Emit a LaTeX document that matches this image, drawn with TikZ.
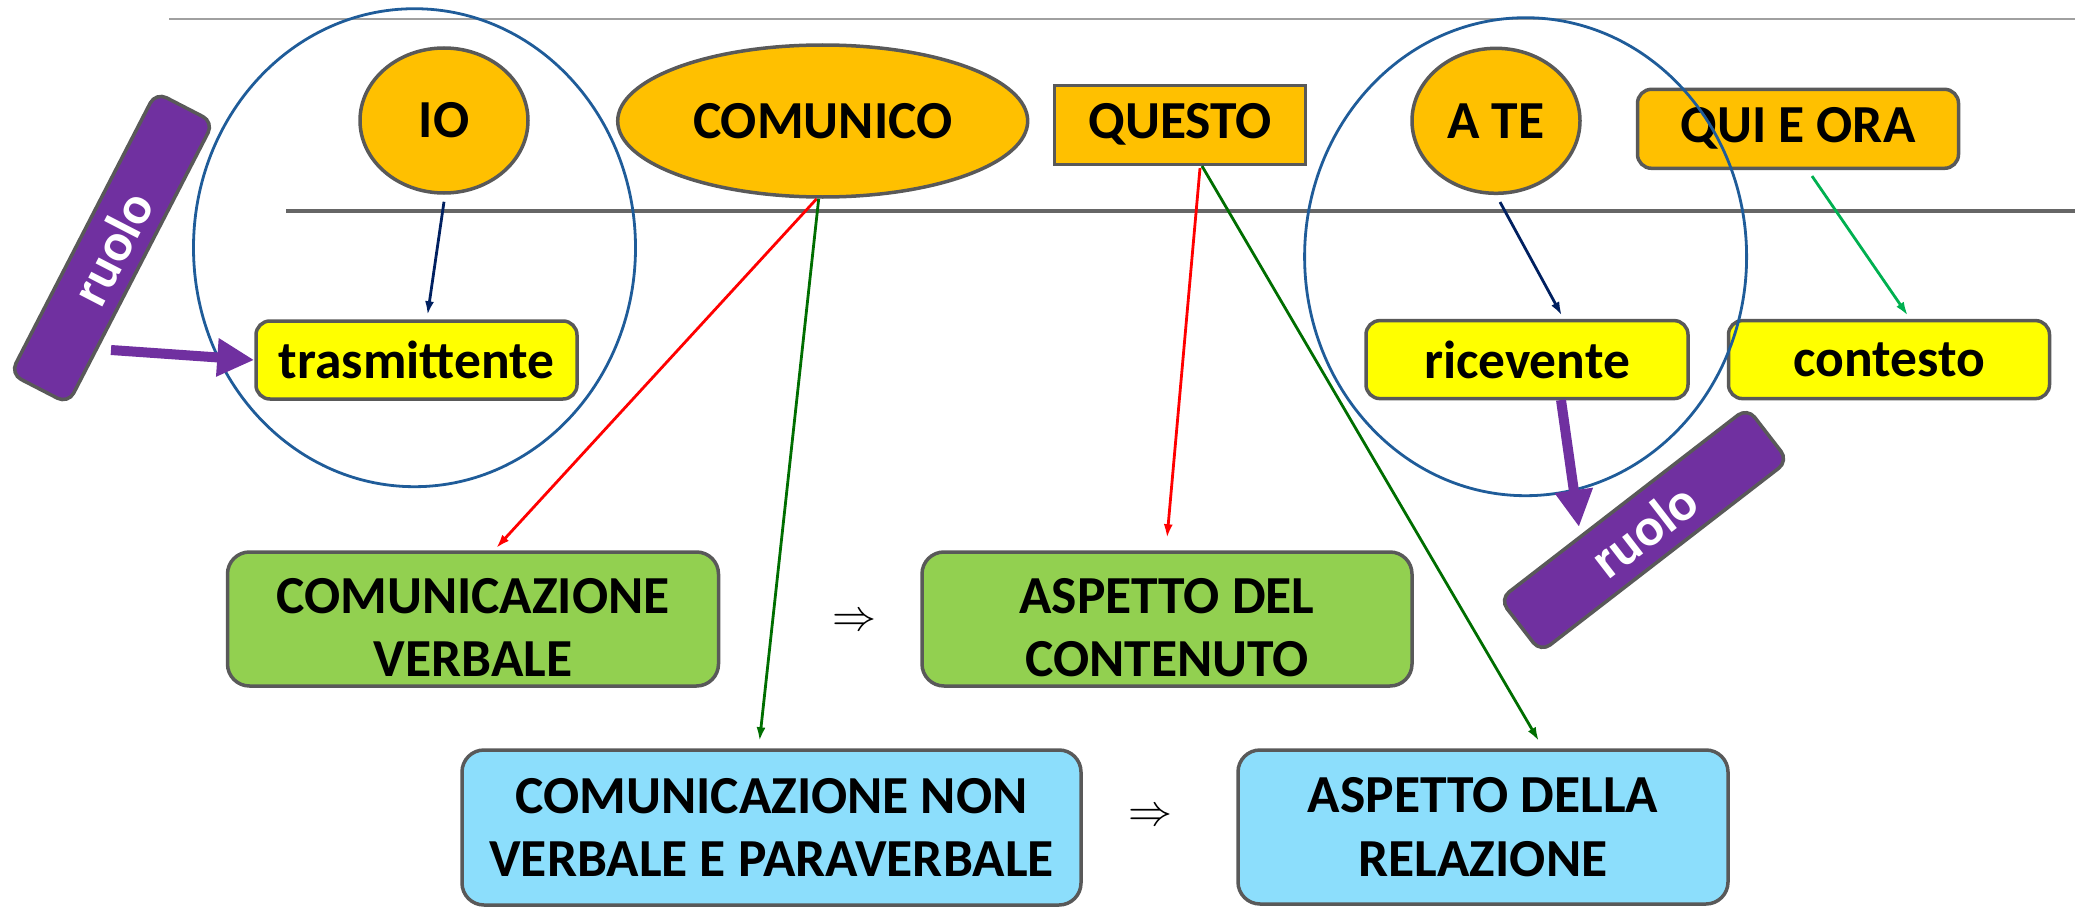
\documentclass[tikz,border=0pt]{standalone}
\usepackage{fontspec}
\setmainfont{Carlito}
\usepackage{graphicx}
\usetikzlibrary{shapes.geometric,arrows.meta,calc}
\definecolor{orangeF}{HTML}{FFC000}
\definecolor{borderG}{HTML}{595959}
\definecolor{yel}{HTML}{FFFF00}
\definecolor{greenF}{HTML}{92D050}
\definecolor{blueF}{HTML}{8CDEFC}
\definecolor{purp}{HTML}{7030A0}
\definecolor{ellB}{HTML}{1F5C99}
\definecolor{navy}{HTML}{002060}
\definecolor{dgreen}{HTML}{006E00}
\definecolor{bgreen}{HTML}{00B050}
\definecolor{lineA}{HTML}{A0A0A0}
\definecolor{lineB}{HTML}{666666}
\newcommand{\toppad}{\rule{0pt}{52pt}}
\begin{document}
\begin{tikzpicture}[x=1pt,y=-1pt,
  txt/.style={font=\fontsize{53.5}{63.5}\selectfont\bfseries, text=black, align=center},
  orangeell/.style={ellipse, draw=borderG, line width=3.5pt, fill=orangeF, inner sep=0pt, txt},
  orangebox/.style={rectangle, draw=borderG, line width=3.5pt, fill=orangeF, inner sep=0pt, txt},
  yelbox/.style={rectangle, rounded corners=14pt, draw=borderG, line width=3.5pt, fill=yel, inner sep=0pt, minimum width=321pt, minimum height=78pt, txt},
  bigbox/.style={rectangle, rounded corners=22pt, draw=borderG, line width=3.5pt, inner sep=0pt, txt},
  ruolobox/.style={rectangle, rounded corners=12pt, draw=borderG, line width=3.5pt, fill=purp, inner sep=0pt, txt, text=white},
  outline/.style={ellipse, draw=ellB, line width=2.8pt, inner sep=0pt, minimum width=442pt, minimum height=478pt},
  conn/.style={line width=2.8pt, -{Latex[length=14pt,width=9pt]}},
  bigarrow/.style={draw=purp, line width=10pt, -{Triangle[length=37pt,width=36pt]}},
  implies/.style={inner sep=0pt}
]
\useasboundingbox (0,0) rectangle (2075,907);

% horizontal rules
\coordinate (topL) at (169,19);
\coordinate (topR) at (2075,19);
\coordinate (midL) at (286,211);
\coordinate (midR) at (2075,211);
\draw[lineA, line width=2pt] (topL) -- (topR);
\draw[lineB, line width=4pt] (midL) -- (midR);

% top row
\node[orangeell, minimum width=168pt, minimum height=145pt] (io) at (444,120.5) {IO};
\node[orangeell, minimum width=410pt, minimum height=152pt] (com) at (822.7,121) {COMUNICO};
\node[orangebox, minimum width=251pt, minimum height=79pt] (questo) at (1180,124.8) {QUESTO};
\node[orangeell, minimum width=168pt, minimum height=145pt] (ate) at (1496,120.8) {A TE};
\node[orangebox, rounded corners=14pt, minimum width=321pt, minimum height=79pt] (qui) at (1798,128.8) {QUI E ORA};

% second row
\node[yelbox] (tras) at (416.5,360) {trasmittente};
\node[yelbox, minimum width=322pt] (ric) at (1527,359.6) {ricevente};
\node[yelbox] (cont) at (1889,359.6) {contesto};

% lower boxes
\node[bigbox, fill=greenF, minimum width=491pt, minimum height=134pt] (cv) at (473,619) {\toppad COMUNICAZIONE\\VERBALE};
\node[bigbox, fill=greenF, minimum width=490pt, minimum height=134pt] (adc) at (1167,619) {\toppad ASPETTO DEL\\CONTENUTO};
\node[bigbox, fill=blueF, minimum width=619pt, minimum height=155pt] (cnv) at (771.5,827.5) {COMUNICAZIONE NON\\VERBALE E PARAVERBALE};
\node[bigbox, fill=blueF, minimum width=490pt, minimum height=154pt] (adr) at (1483,827) {ASPETTO DELLA\\RELAZIONE};

\node[implies] (imp1) at (854,622.5) {\scalebox{4.4}{$\Rightarrow$}};
\node[implies] (imp2) at (1150,817.5) {\scalebox{4.4}{$\Rightarrow$}};

% outline ellipses
\node[outline] (ell1) at (414.5,247.7) {};
\node[outline] (ell2) at (1525.6,256.7) {};

% thin connectors
\draw[conn, navy] ($(io.south)+(0,7)$) -- ($(tras.north)+(11,-4)$);
\draw[conn, navy] ($(ate.south)+(4,7)$) -- ($(ric.north)+(35,-3)$);
\draw[conn, bgreen] ($(qui.south)+(14,6)$) -- ($(cont.north)+(19,-3)$);
\draw[conn, red] ($(com.south)+(-6,0)$) -- ($(cv.north)+(23,-2)$);
\draw[conn, dgreen] ($(com.south)+(-4,0)$) -- ($(cnv.north)+(-12,-7)$);
\draw[conn, red] ($(questo.south)+(20,2)$) -- ($(adc.north)+(0,-12)$);
\draw[conn, dgreen] ($(questo.south)+(22,0)$) -- ($(adr.north)+(56,-7)$);

% ruolo boxes
\node[ruolobox, rotate=62.7, minimum width=317pt, minimum height=65pt] (ruolo1) at (112,248) {ruolo};
\node[ruolobox, rotate=37.7, minimum width=313pt, minimum height=67pt] (ruolo2) at (1644,530) {ruolo};

% thick purple arrows
\coordinate (r1s) at (111,350);
\draw[bigarrow] (r1s) -- (tras.west);
\coordinate (r2s) at (1561,400);
\coordinate (r2e) at (1579,527);
\draw[bigarrow] (r2s) -- (r2e);
\end{tikzpicture}
\end{document}
